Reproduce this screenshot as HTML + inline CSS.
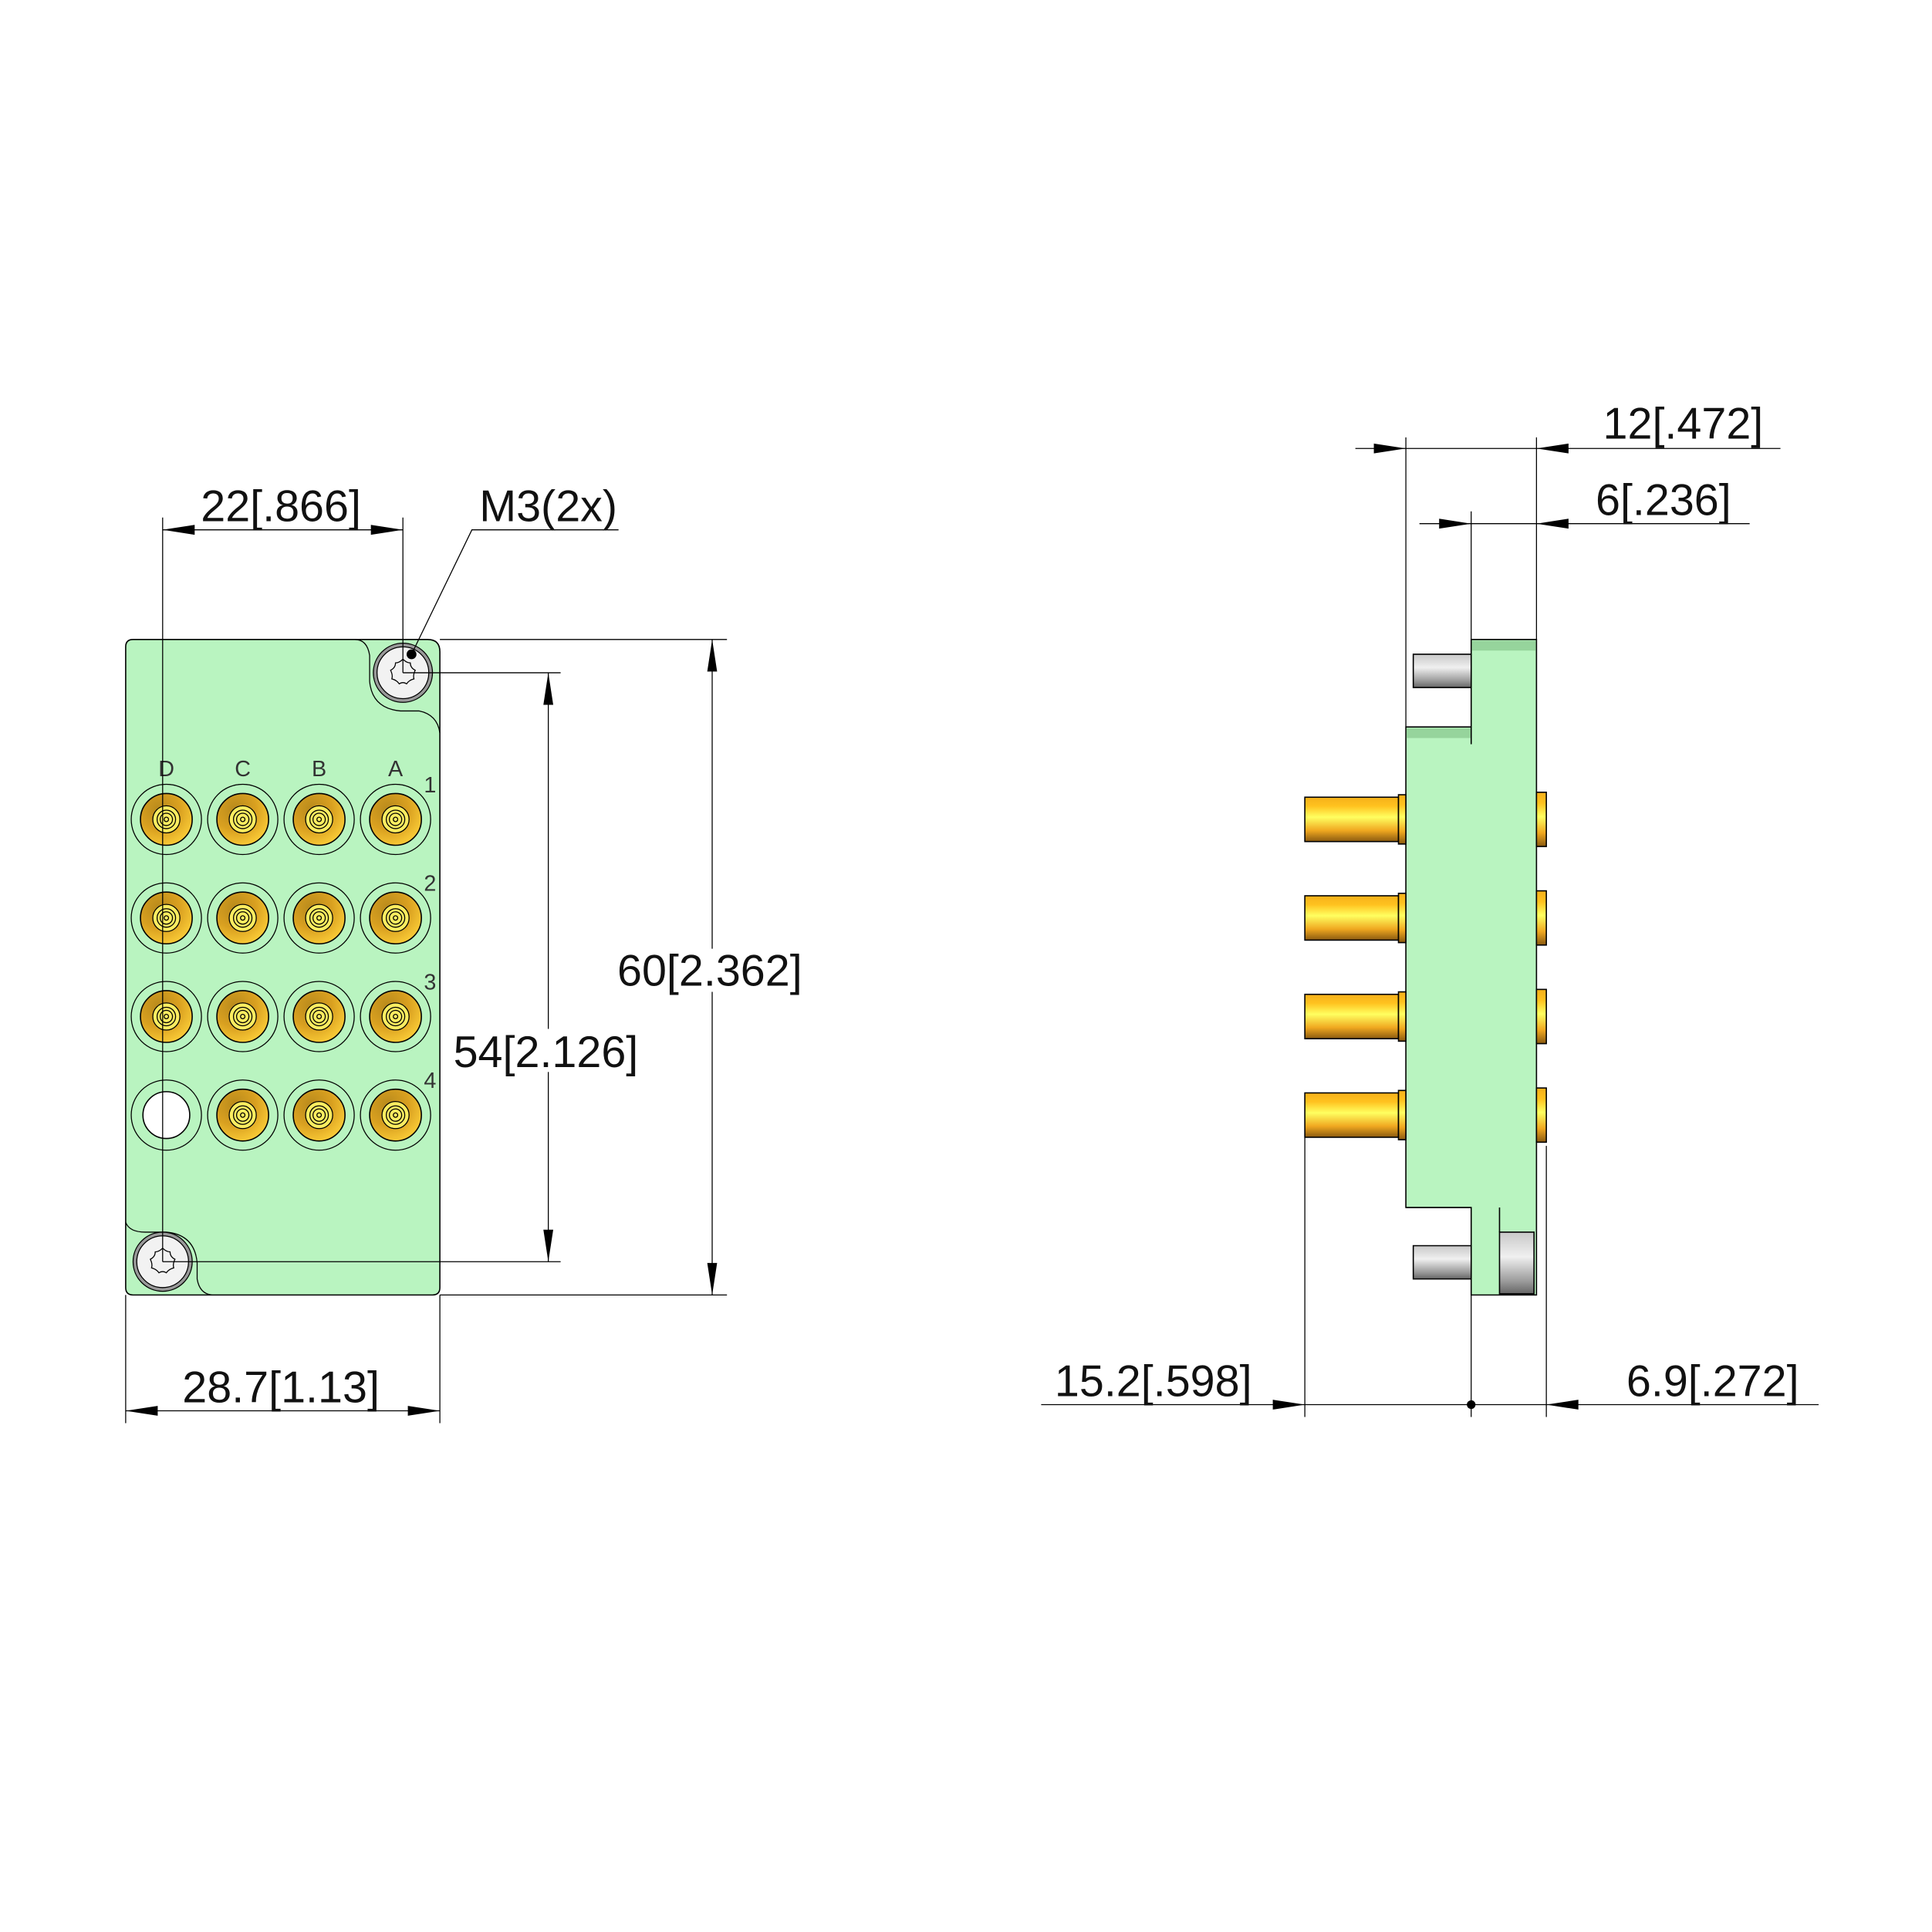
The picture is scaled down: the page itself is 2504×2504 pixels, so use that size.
<!DOCTYPE html>
<html><head><meta charset="utf-8"><style>html,body{margin:0;padding:0;background:#fff}svg{display:block}</style></head>
<body>
<svg xmlns="http://www.w3.org/2000/svg" width="2504" height="2504" viewBox="0 0 1568 1568">
<defs>
<radialGradient id="gold" cx="0.35" cy="0.3" r="0.8"><stop offset="0" stop-color="#b88a1c"/><stop offset="0.5" stop-color="#d9a020"/><stop offset="1" stop-color="#ffd23a"/></radialGradient>
<linearGradient id="pinG" x1="0" y1="0" x2="0" y2="1"><stop offset="0" stop-color="#f5b01a"/><stop offset="0.2" stop-color="#ffc21f"/><stop offset="0.45" stop-color="#ffff60"/><stop offset="0.75" stop-color="#f0a820"/><stop offset="1" stop-color="#8a5a10"/></linearGradient>
<linearGradient id="grayG" x1="0" y1="0" x2="0" y2="1"><stop offset="0" stop-color="#c8c8c8"/><stop offset="0.4" stop-color="#f0f0f0"/><stop offset="0.8" stop-color="#9a9a9a"/><stop offset="1" stop-color="#666"/></linearGradient>
<g id="conn">
<circle r="28.5" fill="none" stroke="#000" stroke-width="0.8"/>
<circle r="21" fill="url(#gold)" stroke="#000" stroke-width="1"/>
<circle r="11" fill="#fbec60" stroke="#000" stroke-width="0.8"/>
<circle r="7.5" fill="none" stroke="#000" stroke-width="0.8"/>
<circle r="5" fill="none" stroke="#000" stroke-width="0.8"/>
<circle r="1.8" fill="none" stroke="#000" stroke-width="0.8"/>
</g>
<g id="screw">
<circle r="24" fill="#999" stroke="#000" stroke-width="0.8"/>
<circle r="21" fill="#f2f2f2" stroke="#000" stroke-width="0.8"/>
<path d="M0,-11 Q3,-8 6,-8 Q6,-4 10,-2 Q8,2 9,5 Q5,6 3,9 Q0,7 -3,9 Q-5,6 -9,5 Q-8,2 -10,-2 Q-6,-4 -6,-8 Q-3,-8 0,-11 Z" fill="none" stroke="#000" stroke-width="0.8"/>
</g>
<g id="pin">
<rect x="1059" y="-18" width="76" height="36" fill="url(#pinG)" stroke="#000" stroke-width="1"/>
<rect x="1135" y="-20" width="6" height="40" fill="url(#pinG)" stroke="#000" stroke-width="1"/>
<rect x="1247" y="-22" width="8" height="44" fill="url(#pinG)" stroke="#000" stroke-width="1"/>
</g>
</defs>

<!-- FRONT VIEW -->
<path d="M108,519 L347,519 Q357,519 357,529 L357,1045 Q357,1051 351,1051 L108,1051 Q102,1051 102,1045 L102,525 Q102,519 108,519 Z" fill="#b9f4c0" stroke="#000" stroke-width="1"/>
<path d="M288,519 Q298,519 300,532 L300,553 Q302,575 325,577 L340,577 Q355,580 357,595" fill="none" stroke="#000" stroke-width="0.8"/>
<path d="M102,992 Q105,1000 118,1000 L135,1000 Q158,1002 160,1025 L160,1038 Q162,1050 172,1051" fill="none" stroke="#000" stroke-width="0.8"/>
<g font-family="Liberation Sans, sans-serif" font-size="18" fill="#333" text-anchor="middle">
<text x="135" y="630">D</text><text x="197" y="630">C</text><text x="259" y="630">B</text><text x="321" y="630">A</text>
<text x="349" y="643">1</text><text x="349" y="723">2</text><text x="349" y="803">3</text><text x="349" y="883">4</text>
</g>
<g>
<use href="#conn" x="135" y="665"/><use href="#conn" x="197" y="665"/><use href="#conn" x="259" y="665"/><use href="#conn" x="321" y="665"/>
<use href="#conn" x="135" y="745"/><use href="#conn" x="197" y="745"/><use href="#conn" x="259" y="745"/><use href="#conn" x="321" y="745"/>
<use href="#conn" x="135" y="825"/><use href="#conn" x="197" y="825"/><use href="#conn" x="259" y="825"/><use href="#conn" x="321" y="825"/>
<circle cx="135" cy="905" r="28.5" fill="none" stroke="#000" stroke-width="0.8"/>
<circle cx="135" cy="905" r="19" fill="#fff" stroke="#000" stroke-width="1"/>
<use href="#conn" x="197" y="905"/><use href="#conn" x="259" y="905"/><use href="#conn" x="321" y="905"/>
</g>
<use href="#screw" x="327" y="546"/>
<use href="#screw" x="132" y="1024"/>

<!-- SIDE VIEW -->
<path d="M1194,519 L1247,519 L1247,1051 L1194,1051 L1194,980 L1141,980 L1141,590 L1194,590 Z" fill="#b9f4c0" stroke="#000" stroke-width="1"/>
<rect x="1194.5" y="520" width="52" height="8" fill="#96d49c"/>
<rect x="1141.5" y="591" width="52" height="8" fill="#96d49c"/>
<line x1="1194" y1="590" x2="1194" y2="604" stroke="#000"/>
<line x1="1141" y1="980" x2="1194" y2="980" stroke="#000"/>
<line x1="1217" y1="980" x2="1217" y2="1000" stroke="#000"/>
<rect x="1217" y="1000" width="28" height="50" fill="url(#grayG)" stroke="#000" stroke-width="1"/>
<path d="M1147,531 L1194,531 L1194,558 L1147,558 Z" fill="url(#grayG)" stroke="#000" stroke-width="1"/>
<path d="M1147,1011 L1194,1011 L1194,1038 L1147,1038 Z" fill="url(#grayG)" stroke="#000" stroke-width="1"/>
<use href="#pin" y="665"/><use href="#pin" y="745"/><use href="#pin" y="825"/><use href="#pin" y="905"/>

<!-- DIMENSIONS -->
<g stroke="#000" stroke-width="0.8" fill="none">
<line x1="132" y1="420" x2="132" y2="1024"/><line x1="327" y1="420" x2="327" y2="546"/>
<line x1="132" y1="430" x2="327" y2="430"/>
<polyline points="334,531 383,430 502,430"/>
<line x1="327" y1="546" x2="455" y2="546"/><line x1="132" y1="1024" x2="455" y2="1024"/>
<line x1="445" y1="546" x2="445" y2="835"/><line x1="445" y1="870" x2="445" y2="1024"/>
<line x1="357" y1="519" x2="590" y2="519"/><line x1="357" y1="1051" x2="590" y2="1051"/>
<line x1="578" y1="519" x2="578" y2="770"/><line x1="578" y1="805" x2="578" y2="1051"/>
<line x1="102" y1="1051" x2="102" y2="1155"/><line x1="357" y1="1051" x2="357" y2="1155"/>
<line x1="102" y1="1145" x2="357" y2="1145"/>
<line x1="1141" y1="355" x2="1141" y2="590"/><line x1="1247" y1="355" x2="1247" y2="519"/>
<line x1="1100" y1="364" x2="1445" y2="364"/>
<line x1="1194" y1="415" x2="1194" y2="519"/>
<line x1="1152" y1="425" x2="1420" y2="425"/>
<line x1="1059" y1="920" x2="1059" y2="1150"/><line x1="1194" y1="1051" x2="1194" y2="1150"/><line x1="1255" y1="930" x2="1255" y2="1150"/>
<line x1="845" y1="1140" x2="1476" y2="1140"/>
</g>
<g fill="#000">
<path d="M132,430 l26,-4 v8 z"/><path d="M327,430 l-26,-4 v8 z"/>
<path d="M445,546 l-4,26 h8 z"/><path d="M445,1024 l-4,-26 h8 z"/>
<path d="M578,519 l-4,26 h8 z"/><path d="M578,1051 l-4,-26 h8 z"/>
<path d="M102,1145 l26,-4 v8 z"/><path d="M357,1145 l-26,-4 v8 z"/>
<path d="M1141,364 l-26,-4 v8 z"/><path d="M1247,364 l26,-4 v8 z"/>
<path d="M1194,425 l-26,-4 v8 z"/><path d="M1247,425 l26,-4 v8 z"/>
<path d="M1059,1140 l-26,-4 v8 z"/><path d="M1255,1140 l26,-4 v8 z"/>
<circle cx="334" cy="531" r="4"/><circle cx="1194" cy="1140" r="3.5"/>
</g>
<g font-family="Liberation Sans, sans-serif" font-size="36" fill="#111" text-anchor="middle">
<text x="228" y="423">22[.866]</text>
<text x="445" y="423">M3(2x)</text>
<text x="443" y="866">54[2.126]</text>
<text x="576" y="800">60[2.362]</text>
<text x="228" y="1138">28.7[1.13]</text>
<text x="1366" y="356">12[.472]</text>
<text x="1350" y="418">6[.236]</text>
<text x="936" y="1133">15.2[.598]</text>
<text x="1390" y="1133">6.9[.272]</text>
</g>
</svg>
</body></html>
